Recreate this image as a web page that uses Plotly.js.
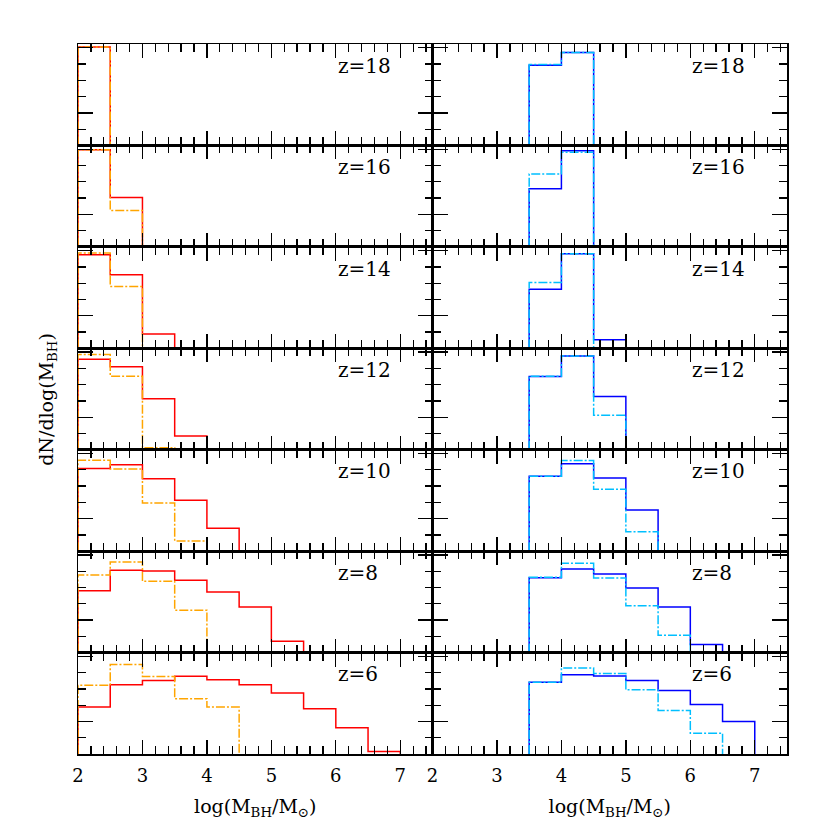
<!DOCTYPE html>
<html>
<head>
<meta charset="utf-8">
<script src="https://cdn.plot.ly/plotly-3.0.1.min.js"></script>
<style>html,body{margin:0;padding:0;background:#fff;}#chart{width:830px;height:830px;}</style>
</head>
<body>
<div id="chart"></div>
<script>
// Redshift of each row (top to bottom)
const redshifts = [18, 16, 14, 12, 10, 8, 6];
// Histogram bins: width 0.5 in log(M_BH/Msun)
const binWidth = 0.5;
const leftBinStart = 2.0;
const rightBinStart = 3.5;
// Left column: red solid and orange dash-dot (values per bin, per redshift row)
const redVals = [
  [6.04],
  [5.96, 3.03],
  [5.75, 4.51, 0.87],
  [5.56, 5.09, 3.13, 0.84],
  [5.07, 5.30, 4.45, 3.12, 1.41],
  [3.79, 5.05, 5.01, 4.44, 3.72, 2.80, 0.69],
  [2.89, 4.25, 4.52, 4.78, 4.56, 4.25, 3.74, 2.78, 1.61, 0.16]
];
const orangeVals = [
  [6.04],
  [5.96, 2.23],
  [5.85, 3.79],
  [5.85, 4.52, 0.12],
  [5.58, 5.04, 2.95, 0.63],
  [4.77, 5.56, 4.38, 2.60],
  [4.22, 5.50, 4.76, 3.39, 2.89]
];
// Right column: blue solid and light-blue dash-dot
const blueVals = [
  [4.93, 5.71],
  [3.57, 5.90],
  [3.63, 5.80, 0.52],
  [4.49, 5.76, 3.27, 0.03],
  [4.60, 5.36, 4.50, 2.52],
  [4.60, 5.14, 4.83, 3.96, 2.80, 0.49],
  [4.40, 4.87, 4.79, 4.52, 3.90, 3.04, 2.00]
];
const cyanVals = [
  [4.97, 5.71],
  [4.48, 5.81],
  [4.04, 5.80],
  [4.52, 5.76, 2.12],
  [4.60, 5.56, 3.80, 1.19],
  [4.62, 5.48, 4.58, 2.88, 1.06],
  [4.40, 5.28, 4.95, 3.95, 2.67, 1.28]
];
const xTickVals = [2, 3, 4, 5, 6, 7];
const xTickText = ['2', '3', '4', '5', '6', '7'];

function stepXY(start, vals) {
  const x = [start], y = [0];
  vals.forEach((v, i) => { x.push(start + i * binWidth); y.push(v); });
  x.push(start + vals.length * binWidth); y.push(0);
  return {x, y};
}

const nRows = redshifts.length;
const traces = [];
const layout = {
  width: 830, height: 830,
  margin: {l: 78, r: 43, t: 44, b: 76},
  paper_bgcolor: '#fff', plot_bgcolor: '#fff',
  showlegend: false,
  font: {family: 'DejaVu Serif', color: '#000'},
  annotations: []
};

const fontFam = 'DejaVu Serif';
for (let r = 0; r < nRows; r++) {
  for (let c = 0; c < 2; c++) {
    const k = r * 2 + c + 1;
    const xa = 'x' + (k === 1 ? '' : k);
    const ya = 'y' + (k === 1 ? '' : k);
    const start = c === 0 ? leftBinStart : rightBinStart;
    const solid = c === 0 ? redVals[r] : blueVals[r];
    const dashed = c === 0 ? orangeVals[r] : cyanVals[r];
    const s1 = stepXY(start, solid);
    const s2 = stepXY(start, dashed);
    traces.push({x: s1.x, y: s1.y, xaxis: xa, yaxis: ya, type: 'scatter', mode: 'lines',
      line: {shape: 'hv', color: c === 0 ? '#ff0000' : '#0000ff', width: 1.5}, hoverinfo: 'skip'});
    traces.push({x: s2.x, y: s2.y, xaxis: xa, yaxis: ya, type: 'scatter', mode: 'lines',
      line: {shape: 'hv', color: c === 0 ? '#ffa500' : '#00bfff', width: 1.5, dash: '9px,2px,2px,2px'}, hoverinfo: 'skip'});
    const isBottom = r === nRows - 1;
    const xKey = 'xaxis' + (k === 1 ? '' : k);
    const yKey = 'yaxis' + (k === 1 ? '' : k);
    layout[xKey] = {
      domain: c === 0 ? [0, 0.5] : [0.5, 1],
      anchor: ya, range: [2, 7.5], fixedrange: true,
      showgrid: false, zeroline: false,
      showline: true, linecolor: '#000', linewidth: 1.5, mirror: 'ticks',
      ticks: 'inside', ticklen: 14, tickwidth: 1.3, tickcolor: '#000',
      tickmode: 'array', tickvals: xTickVals, ticktext: xTickText,
      minor: {ticks: 'inside', tickmode: 'linear', tick0: 2, dtick: 0.2, ticklen: 8, tickwidth: 1.3, tickcolor: '#000', showgrid: false},
      showticklabels: isBottom,
      ticklabelstandoff: 5,
      tickfont: {family: fontFam, size: 18, color: '#000'}
    };
    if (isBottom) {
      layout[xKey].title = {text: 'log(M<sub>BH</sub>/M<sub>⊙</sub>)', font: {family: fontFam, size: 19, color: '#000'}, standoff: 14};
    }
    layout[yKey] = {
      domain: [1 - (r + 1) / nRows, 1 - r / nRows],
      anchor: xa, range: [0, 6.23], fixedrange: true,
      showgrid: false, zeroline: false,
      showline: true, linecolor: '#000', linewidth: 1.5, mirror: 'ticks',
      ticks: 'inside', ticklen: 15, tickwidth: 1.3, tickcolor: '#000',
      tickmode: 'array', tickvals: [2, 6],
      minor: {ticks: 'inside', tickmode: 'array', tickvals: [1, 3, 4, 5], ticklen: 8, tickwidth: 1.3, tickcolor: '#000', showgrid: false},
      showticklabels: false
    };
    layout.annotations.push({
      xref: xa, yref: ya, x: 6.0, y: 4.9, xanchor: 'left', yanchor: 'middle',
      text: 'z=' + redshifts[r], showarrow: false,
      font: {family: fontFam, size: 20, color: '#000'}
    });
  }
}
layout.annotations.push({
  xref: 'paper', yref: 'paper', x: -0.044, y: 0.5, xanchor: 'center', yanchor: 'middle',
  textangle: -90, text: 'dN/dlog(M<sub>BH</sub>)', showarrow: false,
  font: {family: fontFam, size: 19, color: '#000'}
});

Plotly.newPlot('chart', traces, layout, {staticPlot: true, displayModeBar: false});
</script>
</body>
</html>
